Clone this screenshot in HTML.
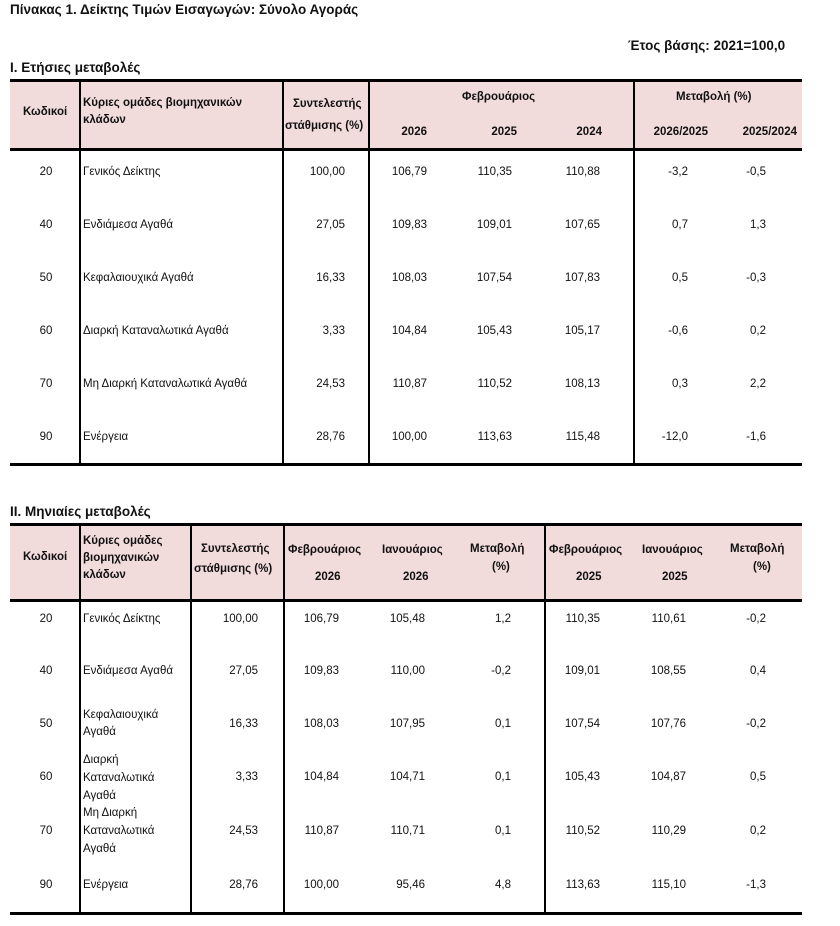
<!DOCTYPE html>
<html><head><meta charset="utf-8"><style>
body{margin:0;background:#fff;}
#p{position:relative;width:840px;height:926px;overflow:hidden;font-family:"Liberation Sans","DejaVu Sans",sans-serif;font-size:11.5px;color:#111;}
#p div{position:absolute;white-space:nowrap;}
.b{font-weight:bold;}
.r{text-align:right;width:90px;}
.c{text-align:center;width:60px;}
.pink{background:#f2dcdb;}
.hl{background:#000;height:3px;}
.vl{background:#000;width:2px;}
</style></head><body><div id="p">
<div class="b" style="left:10px;top:2px;font-size:13.5px">Πίνακας 1. Δείκτης Τιμών Εισαγωγών: Σύνολο Αγοράς</div>
<div class="b" style="left:628px;top:38px;font-size:13.5px">Έτος βάσης: 2021=100,0</div>
<div class="b" style="left:10px;top:60px;font-size:13.5px">I. Ετήσιες μεταβολές</div>

<div class="pink" style="left:10px;top:81px;width:792px;height:67px"></div>
<div class="hl" style="left:10px;top:79px;width:792px"></div>
<div class="hl" style="left:10px;top:148px;width:792px"></div>
<div class="hl" style="left:10px;top:463px;width:792px"></div>
<div class="vl" style="left:79px;top:80px;height:385px"></div>
<div class="vl" style="left:282px;top:80px;height:385px"></div>
<div class="vl" style="left:368px;top:80px;height:385px"></div>
<div class="vl" style="left:633px;top:80px;height:385px"></div>

<div class="b" style="left:23px;top:106px">Κωδικοί</div>
<div class="b" style="left:83px;top:97px">Κύριες ομάδες βιομηχανικών</div>
<div class="b" style="left:83px;top:114px">κλάδων</div>
<div class="b" style="left:293px;top:98px">Συντελεστής</div>
<div class="b" style="left:285px;top:120px">στάθμισης (%)</div>
<div class="b" style="left:462px;top:91px">Φεβρουάριος</div>
<div class="b" style="left:676px;top:91px">Μεταβολή (%)</div>
<div class="b r" style="left:337px;top:126px">2026</div>
<div class="b r" style="left:427px;top:126px">2025</div>
<div class="b r" style="left:512px;top:126px">2024</div>
<div class="b r" style="left:618px;top:126px">2026/2025</div>
<div class="b r" style="left:707px;top:126px">2025/2024</div>

<div class="c" style="left:16px;top:166px">20</div><div style="left:83px;top:166px">Γενικός Δείκτης</div>
<div class="r" style="left:255px;top:166px">100,00</div><div class="r" style="left:337px;top:166px">106,79</div><div class="r" style="left:422px;top:166px">110,35</div><div class="r" style="left:510px;top:166px">110,88</div><div class="r" style="left:598px;top:166px">-3,2</div><div class="r" style="left:676px;top:166px">-0,5</div>

<div class="c" style="left:16px;top:219px">40</div><div style="left:83px;top:219px">Ενδιάμεσα Αγαθά</div>
<div class="r" style="left:255px;top:219px">27,05</div><div class="r" style="left:337px;top:219px">109,83</div><div class="r" style="left:422px;top:219px">109,01</div><div class="r" style="left:510px;top:219px">107,65</div><div class="r" style="left:598px;top:219px">0,7</div><div class="r" style="left:676px;top:219px">1,3</div>

<div class="c" style="left:16px;top:272px">50</div><div style="left:83px;top:272px">Κεφαλαιουχικά Αγαθά</div>
<div class="r" style="left:255px;top:272px">16,33</div><div class="r" style="left:337px;top:272px">108,03</div><div class="r" style="left:422px;top:272px">107,54</div><div class="r" style="left:510px;top:272px">107,83</div><div class="r" style="left:598px;top:272px">0,5</div><div class="r" style="left:676px;top:272px">-0,3</div>

<div class="c" style="left:16px;top:325px">60</div><div style="left:83px;top:325px">Διαρκή Καταναλωτικά Αγαθά</div>
<div class="r" style="left:255px;top:325px">3,33</div><div class="r" style="left:337px;top:325px">104,84</div><div class="r" style="left:422px;top:325px">105,43</div><div class="r" style="left:510px;top:325px">105,17</div><div class="r" style="left:598px;top:325px">-0,6</div><div class="r" style="left:676px;top:325px">0,2</div>

<div class="c" style="left:16px;top:378px">70</div><div style="left:83px;top:378px">Μη Διαρκή Καταναλωτικά Αγαθά</div>
<div class="r" style="left:255px;top:378px">24,53</div><div class="r" style="left:337px;top:378px">110,87</div><div class="r" style="left:422px;top:378px">110,52</div><div class="r" style="left:510px;top:378px">108,13</div><div class="r" style="left:598px;top:378px">0,3</div><div class="r" style="left:676px;top:378px">2,2</div>

<div class="c" style="left:16px;top:431px">90</div><div style="left:83px;top:431px">Ενέργεια</div>
<div class="r" style="left:255px;top:431px">28,76</div><div class="r" style="left:337px;top:431px">100,00</div><div class="r" style="left:422px;top:431px">113,63</div><div class="r" style="left:510px;top:431px">115,48</div><div class="r" style="left:598px;top:431px">-12,0</div><div class="r" style="left:676px;top:431px">-1,6</div>

<div class="b" style="left:10px;top:504px;font-size:13.5px">II. Μηνιαίες μεταβολές</div>
<div class="pink" style="left:10px;top:526px;width:792px;height:73px"></div>
<div class="hl" style="left:10px;top:523px;width:792px"></div>
<div class="hl" style="left:10px;top:599px;width:792px"></div>
<div class="hl" style="left:10px;top:912px;width:792px"></div>
<div class="vl" style="left:79px;top:524px;height:390px"></div>
<div class="vl" style="left:190px;top:524px;height:390px"></div>
<div class="vl" style="left:283px;top:524px;height:390px"></div>
<div class="vl" style="left:544px;top:524px;height:390px"></div>

<div class="b" style="left:23px;top:551px">Κωδικοί</div>
<div class="b" style="left:83px;top:535px">Κύριες ομάδες</div>
<div class="b" style="left:83px;top:552px">βιομηχανικών</div>
<div class="b" style="left:83px;top:569px">κλάδων</div>
<div class="b" style="left:201px;top:543px">Συντελεστής</div>
<div class="b" style="left:194px;top:563px">στάθμισης (%)</div>
<div class="b" style="left:288px;top:544px">Φεβρουάριος</div>
<div class="b" style="left:382px;top:544px">Ιανουάριος</div>
<div class="b" style="left:470px;top:543px">Μεταβολή</div>
<div class="b" style="left:492px;top:561px">(%)</div>
<div class="b" style="left:549px;top:544px">Φεβρουάριος</div>
<div class="b" style="left:642px;top:544px">Ιανουάριος</div>
<div class="b" style="left:730px;top:543px">Μεταβολή</div>
<div class="b" style="left:753px;top:561px">(%)</div>
<div class="b" style="left:315px;top:571px">2026</div>
<div class="b" style="left:403px;top:571px">2026</div>
<div class="b" style="left:576px;top:571px">2025</div>
<div class="b" style="left:662px;top:571px">2025</div>

<div class="c" style="left:16px;top:613px">20</div><div style="left:83px;top:613px">Γενικός Δείκτης</div>
<div class="r" style="left:168px;top:613px">100,00</div><div class="r" style="left:249px;top:613px">106,79</div><div class="r" style="left:335px;top:613px">105,48</div><div class="r" style="left:421px;top:613px">1,2</div><div class="r" style="left:510px;top:613px">110,35</div><div class="r" style="left:596px;top:613px">110,61</div><div class="r" style="left:676px;top:613px">-0,2</div>

<div class="c" style="left:16px;top:665px">40</div><div style="left:83px;top:665px">Ενδιάμεσα Αγαθά</div>
<div class="r" style="left:168px;top:665px">27,05</div><div class="r" style="left:249px;top:665px">109,83</div><div class="r" style="left:335px;top:665px">110,00</div><div class="r" style="left:421px;top:665px">-0,2</div><div class="r" style="left:510px;top:665px">109,01</div><div class="r" style="left:596px;top:665px">108,55</div><div class="r" style="left:676px;top:665px">0,4</div>

<div class="c" style="left:16px;top:718px">50</div><div style="left:83px;top:709px">Κεφαλαιουχικά</div><div style="left:83px;top:726px">Αγαθά</div>
<div class="r" style="left:168px;top:718px">16,33</div><div class="r" style="left:249px;top:718px">108,03</div><div class="r" style="left:335px;top:718px">107,95</div><div class="r" style="left:421px;top:718px">0,1</div><div class="r" style="left:510px;top:718px">107,54</div><div class="r" style="left:596px;top:718px">107,76</div><div class="r" style="left:676px;top:718px">-0,2</div>

<div class="c" style="left:16px;top:771px">60</div><div style="left:83px;top:754px">Διαρκή</div><div style="left:83px;top:772px">Καταναλωτικά</div><div style="left:83px;top:790px">Αγαθά</div>
<div class="r" style="left:168px;top:771px">3,33</div><div class="r" style="left:249px;top:771px">104,84</div><div class="r" style="left:335px;top:771px">104,71</div><div class="r" style="left:421px;top:771px">0,1</div><div class="r" style="left:510px;top:771px">105,43</div><div class="r" style="left:596px;top:771px">104,87</div><div class="r" style="left:676px;top:771px">0,5</div>

<div class="c" style="left:16px;top:825px">70</div><div style="left:83px;top:807px">Μη Διαρκή</div><div style="left:83px;top:825px">Καταναλωτικά</div><div style="left:83px;top:843px">Αγαθά</div>
<div class="r" style="left:168px;top:825px">24,53</div><div class="r" style="left:249px;top:825px">110,87</div><div class="r" style="left:335px;top:825px">110,71</div><div class="r" style="left:421px;top:825px">0,1</div><div class="r" style="left:510px;top:825px">110,52</div><div class="r" style="left:596px;top:825px">110,29</div><div class="r" style="left:676px;top:825px">0,2</div>

<div class="c" style="left:16px;top:879px">90</div><div style="left:83px;top:879px">Ενέργεια</div>
<div class="r" style="left:168px;top:879px">28,76</div><div class="r" style="left:249px;top:879px">100,00</div><div class="r" style="left:335px;top:879px">95,46</div><div class="r" style="left:421px;top:879px">4,8</div><div class="r" style="left:510px;top:879px">113,63</div><div class="r" style="left:596px;top:879px">115,10</div><div class="r" style="left:676px;top:879px">-1,3</div>
</div></body></html>
